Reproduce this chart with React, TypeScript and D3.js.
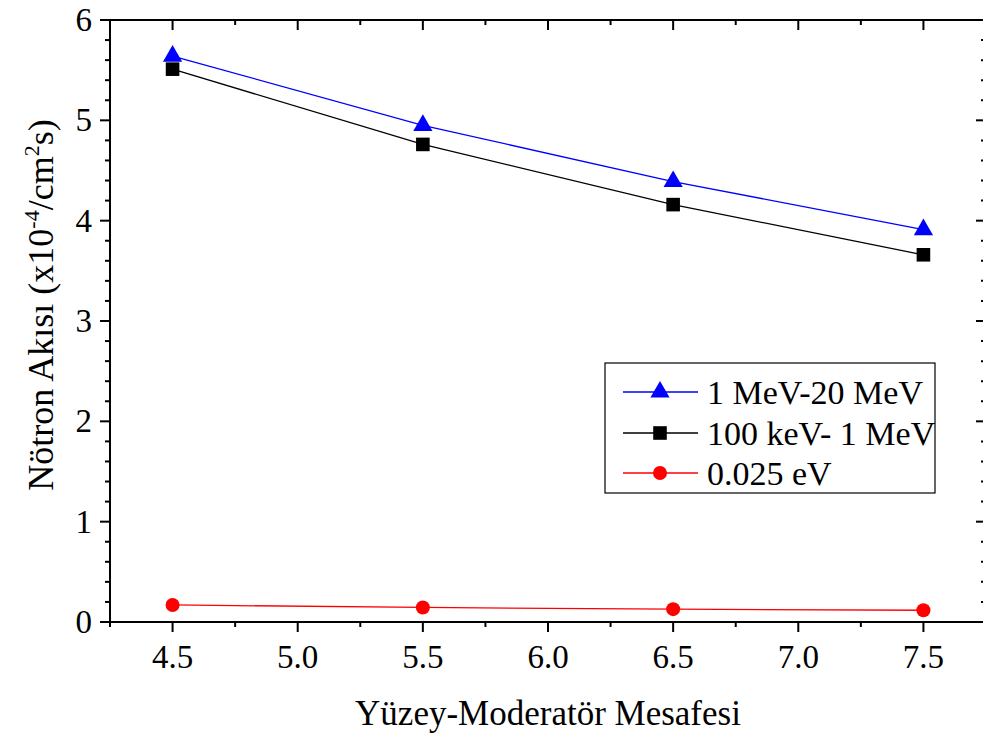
import React from "react";
import * as d3 from "d3";

const xValues = [4.5, 5.5, 6.5, 7.5];
const seriesHigh = [5.64, 4.95, 4.39, 3.91]; // 1 MeV-20 MeV
const seriesMid = [5.51, 4.76, 4.16, 3.66]; // 100 keV- 1 MeV
const seriesThermal = [0.17, 0.145, 0.128, 0.117]; // 0.025 eV
const seriesNames = ["1 MeV-20 MeV", "100 keV- 1 MeV", "0.025 eV"];
const xTickLabels = ["4.5", "5.0", "5.5", "6.0", "6.5", "7.0", "7.5"];
const yTickLabels = ["0", "1", "2", "3", "4", "5", "6"];

const W = 983;
const H = 738;
const FONT = "'Liberation Serif', 'Times New Roman', serif";

export default function App() {
  const x = d3.scaleLinear().domain([4.25, 7.75]).range([110, 986]);
  const y = d3.scaleLinear().domain([0, 6]).range([622, 20]);
  const left = x.range()[0];
  const right = x.range()[1];
  const top = y.range()[1];
  const bottom = y.range()[0];

  const xMajor = xTickLabels.map((t) => +t);
  const xMinor = d3.range(4.25, 7.76, 0.5);
  const yMajor = yTickLabels.map((t) => +t);
  const yMinor = d3.range(0, 6.001, 0.2).filter((v) => Math.abs(v - Math.round(v)) > 1e-6);

  const line = d3
    .line<number>()
    .x((_, i) => x(xValues[i]))
    .y((d) => y(d));

  const tri = d3.symbol().type(d3.symbolTriangle).size(160)()!;
  const sq = d3.symbol().type(d3.symbolSquare).size(185)()!;
  const circ = d3.symbol().type(d3.symbolCircle).size(155)()!;

  const series = [
    { name: seriesNames[0], data: seriesHigh, color: "#0000ff", sym: tri },
    { name: seriesNames[1], data: seriesMid, color: "#000000", sym: sq },
    { name: seriesNames[2], data: seriesThermal, color: "#ff0000", sym: circ },
  ];

  const legendRows = [392, 433, 473];

  return (
    <div style={{ position: "absolute", left: 0, top: 0 }}>
      <svg width={W} height={H} style={{ display: "block", background: "#fff" }} fontFamily={FONT}>
        <rect x={0} y={0} width={W} height={H} fill="#fff" />
        {series.map((s) => (
          <path key={s.name + "l"} d={line(s.data)!} fill="none" stroke={s.color} strokeWidth={1.3} />
        ))}
        {series.map((s) =>
          s.data.map((v, i) => (
            <path key={s.name + i} d={s.sym} transform={`translate(${x(xValues[i])},${y(v)})`} fill={s.color} />
          ))
        )}

        <rect x={left} y={top} width={right - left} height={bottom - top} fill="none" stroke="#000" strokeWidth={2} />

        {xMajor.map((v) => (
          <g key={"xM" + v}>
            <line x1={x(v)} x2={x(v)} y1={bottom} y2={bottom + 10} stroke="#000" strokeWidth={2} />
            <line x1={x(v)} x2={x(v)} y1={top} y2={top + 10} stroke="#000" strokeWidth={2} />
          </g>
        ))}
        {xMinor.map((v) => (
          <g key={"xm" + v}>
            <line x1={x(v)} x2={x(v)} y1={bottom} y2={bottom + 5} stroke="#000" strokeWidth={2} />
            <line x1={x(v)} x2={x(v)} y1={top} y2={top + 5} stroke="#000" strokeWidth={2} />
          </g>
        ))}
        {yMajor.map((v) => (
          <g key={"yM" + v}>
            <line x1={left - 10} x2={left} y1={y(v)} y2={y(v)} stroke="#000" strokeWidth={2} />
            <line x1={right - 10} x2={right} y1={y(v)} y2={y(v)} stroke="#000" strokeWidth={2} />
          </g>
        ))}
        {yMinor.map((v) => (
          <g key={"ym" + v}>
            <line x1={left - 5} x2={left} y1={y(v)} y2={y(v)} stroke="#000" strokeWidth={2} />
            <line x1={right - 5} x2={right} y1={y(v)} y2={y(v)} stroke="#000" strokeWidth={2} />
          </g>
        ))}

        {xTickLabels.map((t) => (
          <text key={"xt" + t} x={x(+t)} y={668} textAnchor="middle" fontSize={33} fill="#000">
            {t}
          </text>
        ))}
        {yTickLabels.map((t) => (
          <text key={"yt" + t} x={92} y={y(+t) + 11} textAnchor="end" fontSize={33} fill="#000">
            {t}
          </text>
        ))}

        <text x={548} y={725} textAnchor="middle" fontSize={35} fill="#000">
          Yüzey-Moderatör Mesafesi
        </text>
        <text transform="translate(53,305) rotate(-90)" textAnchor="middle" fontSize={36} fill="#000">
          Nötron Akısı (x10
          <tspan dy={-14} fontSize={22}>-4</tspan>
          <tspan dy={14}>/cm</tspan>
          <tspan dy={-14} fontSize={22}>2</tspan>
          <tspan dy={14}>s)</tspan>
        </text>

        <rect x={605} y={363} width={330} height={130} fill="#fff" stroke="#000" strokeWidth={1.2} />
        {series.map((s, i) => (
          <g key={"lg" + i}>
            <line x1={623} x2={698} y1={legendRows[i]} y2={legendRows[i]} stroke={s.color} strokeWidth={1.3} />
            <path d={s.sym} transform={`translate(660,${legendRows[i]})`} fill={s.color} />
            <text x={707} y={legendRows[i] + 12} fontSize={34} fill="#000">
              {s.name}
            </text>
          </g>
        ))}
      </svg>
    </div>
  );
}
